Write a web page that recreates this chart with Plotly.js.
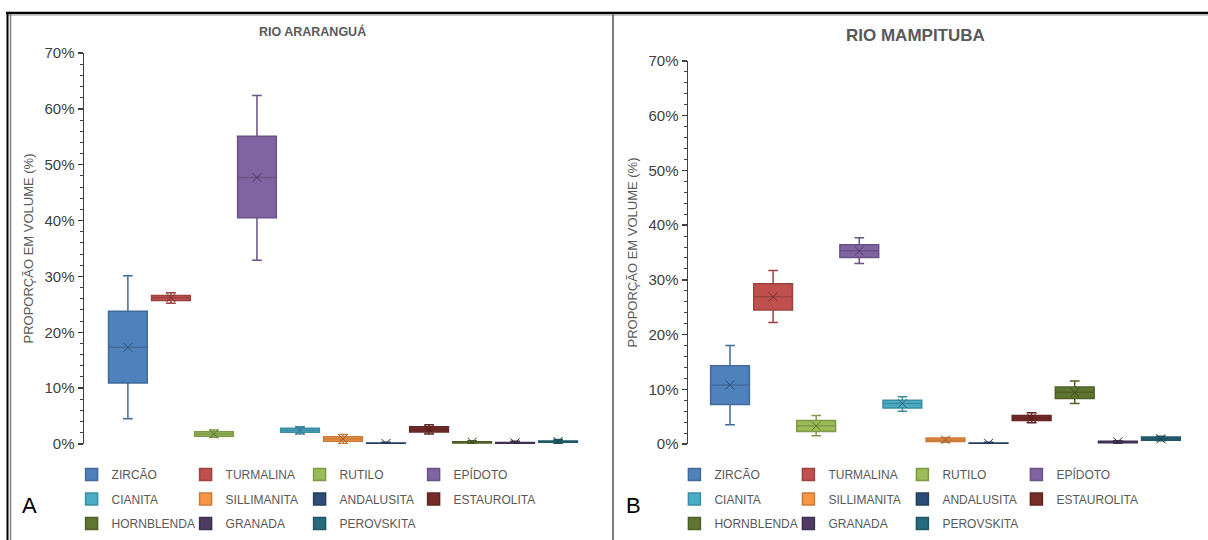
<!DOCTYPE html>
<html>
<head>
<meta charset="utf-8">
<script src="https://cdn.plot.ly/plotly-3.0.1.min.js"></script>
<style>html,body{margin:0;padding:0;background:#fff;}#chart{width:1208px;height:540px;}</style>
</head>
<body>
<div id="chart"></div>
<script>
// ---- data ----
const minerals = ['ZIRCÃO','TURMALINA','RUTILO','EPÍDOTO','CIANITA','SILLIMANITA','ANDALUSITA','ESTAUROLITA','HORNBLENDA','GRANADA','PEROVSKITA'];
const colors = ['#4F81BD','#C0504D','#9BBB59','#8064A2','#4BACC6','#F79646','#2C4D75','#772C2A','#5F7530','#4D3B62','#276A7C'];

// Rio Araranguá (% volume)
const araMin  = [4.5, 25.2, 1.2, 32.9, 1.8, 0.1, 0.0, 1.8, 0.0, 0.0, 0.1];
const araQ1   = [10.9, 25.7, 1.4, 40.5, 2.1, 0.5, 0.0, 2.15, 0.2, 0.1, 0.3];
const araMed  = [17.3, 26.2, 1.8, 47.7, 2.45, 0.9, 0.1, 2.6, 0.3, 0.2, 0.4];
const araQ3   = [23.75, 26.6, 2.2, 55.1, 2.8, 1.3, 0.2, 3.1, 0.4, 0.25, 0.55];
const araMax  = [30.1, 27.1, 2.5, 62.4, 3.1, 1.7, 0.3, 3.45, 0.6, 0.5, 0.8];
const araMean = [17.3, 26.2, 1.8, 47.7, 2.45, 0.9, 0.1, 2.6, 0.3, 0.2, 0.45];

// Rio Mampituba (% volume)
const mamMin  = [3.5, 22.2, 1.5, 33.0, 6.0, 0.3, 0.0, 3.9, 7.4, 0.1, 0.6];
const mamQ1   = [7.2, 24.5, 2.3, 34.1, 6.6, 0.45, 0.05, 4.3, 8.3, 0.25, 0.7];
const mamMed  = [10.8, 26.9, 3.35, 35.3, 7.4, 0.75, 0.13, 4.75, 9.45, 0.38, 0.95];
const mamQ3   = [14.3, 29.3, 4.3, 36.4, 8.0, 1.08, 0.2, 5.2, 10.4, 0.5, 1.26];
const mamMax  = [18.0, 31.7, 5.2, 37.7, 8.65, 1.2, 0.3, 5.7, 11.5, 0.6, 1.4];
const mamMean = [10.8, 26.9, 3.3, 35.3, 7.4, 0.75, 0.13, 4.75, 9.4, 0.38, 0.95];

const yTicks = [0,10,20,30,40,50,60,70];
const yTickText = yTicks.map(v => v + '%');

// ---- helpers ----
function shade(hex, f){
  const n = parseInt(hex.slice(1),16);
  const r = Math.round(((n>>16)&255)*f), g = Math.round(((n>>8)&255)*f), b = Math.round((n&255)*f);
  return 'rgb('+r+','+g+','+b+')';
}
const W = 1208, H = 540;
const px = x => x / W;
const py = y => (H - y) / H;
const FONT = 'Arial, Liberation Sans, sans-serif';

const traces = [];
function addPanel(p, mn, q1, md, q3, mx, mean){
  const xa = p === 0 ? 'x' : 'x2', ya = p === 0 ? 'y' : 'y2';
  minerals.forEach((m, i) => {
    const row = Math.floor(i / 4);
    const li = p * 3 + row + 1;
    const lastInRow = (i % 4 === 3) || i === minerals.length - 1;
    const t = {
      type: 'box', name: m, x: [m], q1: [q1[i]], median: [md[i]], q3: [q3[i]],
      lowerfence: [mn[i]], upperfence: [mx[i]], boxpoints: false,
      width: 0.9, whiskerwidth: 0.25,
      fillcolor: colors[i], line: {color: shade(colors[i], 0.82), width: 1.5},
      xaxis: xa, yaxis: ya, legend: li === 1 ? 'legend' : 'legend' + li,
      hoverinfo: 'skip'
    };
    if (lastInRow) t.legendwidth = 100;
    traces.push(t);
    traces.push({
      type: 'scatter', mode: 'markers', x: [m], y: [mean[i]], showlegend: false,
      marker: {symbol: 'x-thin-open', size: 9, color: shade(colors[i], 0.62), line: {color: shade(colors[i], 0.62), width: 1}},
      xaxis: xa, yaxis: ya, hoverinfo: 'skip'
    });
  });
}
addPanel(0, araMin, araQ1, araMed, araQ3, araMax, araMean);
addPanel(1, mamMin, mamQ1, mamMed, mamQ3, mamMax, mamMean);

const tickFont = {family: FONT, size: 15, color: '#404040'};
const titleFont = {family: FONT, size: 13, color: '#595959'};
function yaxis(domain, standoff){
  return {
    domain: domain, range: [0, 70], tickmode: 'array', tickvals: yTicks, ticktext: yTickText,
    showgrid: false, zeroline: false, showline: true, linecolor: '#404040', linewidth: 1.5,
    ticks: 'outside', ticklen: 5, tickwidth: 1.5, tickcolor: '#404040', tickfont: tickFont,
    minor: {dtick: 2, ticks: 'outside', ticklen: 3, tickwidth: 1, tickcolor: '#404040'},
    title: {text: 'PROPORÇÃO EM VOLUME (%)', font: titleFont, standoff: standoff},
    fixedrange: true
  };
}
function xaxis(domain, range, anchor){
  return {
    domain: domain, range: range, type: 'category', categoryorder: 'array', categoryarray: minerals,
    showticklabels: false, showgrid: false, zeroline: false, showline: false, ticks: '',
    anchor: anchor, fixedrange: true
  };
}

const legFont = {family: FONT, size: 12, color: '#595959'};
const rowsY = [474.6, 499, 523.6];
const legX = [97.6, 700.4];
function ann(text, x, y, size, color, weight){
  return {text: text, xref: 'paper', yref: 'paper', x: px(x), y: py(y), xanchor: 'center', yanchor: 'middle',
          showarrow: false, font: {family: FONT, size: size, color: color, weight: weight || 'normal'}};
}
const layout = {
  width: W, height: H, margin: {l: 0, r: 0, t: 0, b: 0},
  paper_bgcolor: '#fff', plot_bgcolor: '#fff',
  xaxis: xaxis([px(84), px(602)], [-1.02, 11.02], 'y'),
  yaxis: yaxis([py(444), py(53)], 8),
  xaxis2: xaxis([px(688), px(1204)], [-0.975, 11.0], 'y2'),
  yaxis2: Object.assign(yaxis([py(444), py(61)], 8), {anchor: 'x2'}),
  annotations: [
    ann('RIO ARARANGUÁ', 312, 32, 12.5, '#595959', 'bold'),
    ann('RIO MAMPITUBA', 915, 36, 17, '#595959', 'bold'),
    ann('A', 30, 505, 22, '#000'),
    ann('B', 633, 505, 22, '#000')
  ],
  shapes: [
    {type: 'line', xref: 'paper', yref: 'paper', x0: px(6), x1: 1, y0: py(13), y1: py(13), line: {color: '#000', width: 2.5}},
    {type: 'line', xref: 'paper', yref: 'paper', x0: px(7.5), x1: 1, y0: py(15.2), y1: py(15.2), line: {color: '#b0b0b0', width: 1}},
    {type: 'line', xref: 'paper', yref: 'paper', x0: px(7.5), x1: px(7.5), y0: py(12), y1: 0, line: {color: '#000', width: 2}},
    {type: 'line', xref: 'paper', yref: 'paper', x0: px(10.5), x1: px(10.5), y0: py(14), y1: 0, line: {color: '#808080', width: 1.5}},
    {type: 'line', xref: 'paper', yref: 'paper', x0: px(613), x1: px(613), y0: py(14), y1: 0, line: {color: '#7a7a7a', width: 2}}
  ],
  showlegend: true
};
for (let p = 0; p < 2; p++) {
  for (let r = 0; r < 3; r++) {
    const li = p * 3 + r + 1;
    layout[li === 1 ? 'legend' : 'legend' + li] = {
      orientation: 'h', x: px(legX[p] - 26), xanchor: 'left', y: py(rowsY[r]), yanchor: 'middle',
      entrywidth: 69, entrywidthmode: 'pixels', font: legFont, bgcolor: 'rgba(0,0,0,0)',
      borderwidth: 0, traceorder: 'normal', itemclick: false, itemdoubleclick: false
    };
  }
}
Plotly.newPlot('chart', traces, layout, {staticPlot: true, displayModeBar: false});
</script>
</body>
</html>
